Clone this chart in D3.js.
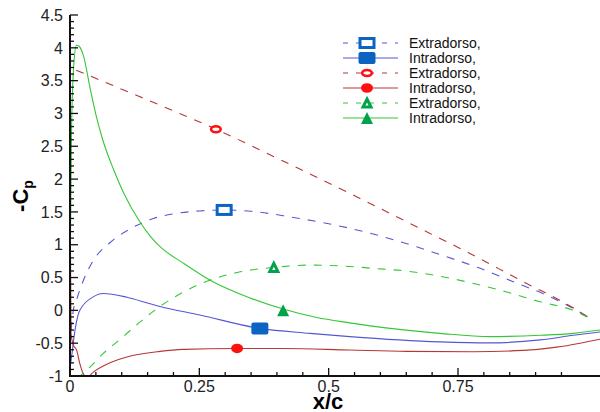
<!DOCTYPE html>
<html>
<head>
<meta charset="utf-8">
<script src="https://cdn.jsdelivr.net/npm/d3@7"></script>
<style>
  body { margin: 0; background: #fff; }
  svg { display: block; font-family: "Liberation Sans", Arial, sans-serif; }
</style>
</head>
<body>
<svg id="chart" width="600" height="412"></svg>
<script>
// values
const blueExtraX = [0.002, 0.0064, 0.013, 0.026, 0.045, 0.077, 0.116, 0.161, 0.2, 0.25, 0.3, 0.35, 0.425, 0.541, 0.606, 0.67, 0.728, 0.793, 0.857, 0.921, 0.973, 1.011]
const blueExtraY = [-0.3, 0.0, 0.17, 0.46, 0.76, 1.03, 1.24, 1.4, 1.47, 1.515, 1.53, 1.51, 1.425, 1.25, 1.12, 0.968, 0.816, 0.64, 0.435, 0.232, 0.03, -0.15]

const blueIntraX = [0.0005, 0.003, 0.0097, 0.019, 0.045, 0.064, 0.11, 0.155, 0.174, 0.251, 0.367, 0.464, 0.541, 0.715, 0.812, 0.909, 0.973, 1.0245]
const blueIntraY = [-0.85, -0.71, -0.3, 0.0, 0.206, 0.257, 0.2, 0.1, 0.06, -0.07, -0.275, -0.35, -0.4, -0.48, -0.495, -0.45, -0.38, -0.33]

const redExtraX = [0.012, 0.1, 0.2, 0.282, 0.4, 0.567, 0.657, 0.773, 0.889, 0.947, 1.011]
const redExtraY = [3.66, 3.37, 3.04, 2.76, 2.32, 1.68, 1.325, 0.867, 0.384, 0.155, -0.15]

const redIntraX = [0.0008, 0.002, 0.006, 0.013, 0.019, 0.026, 0.033, 0.045, 0.077, 0.11, 0.174, 0.219, 0.323, 0.412, 0.541, 0.651, 0.78, 0.876, 0.941, 0.986, 1.0245]
const redIntraY = [1.05, -0.35, -0.52, -0.61, -0.81, -0.97, -1.02, -0.94, -0.8, -0.71, -0.625, -0.595, -0.58, -0.58, -0.605, -0.625, -0.63, -0.61, -0.56, -0.5, -0.44]

const greenExtraX = [0.015, 0.02, 0.039, 0.064, 0.097, 0.135, 0.174, 0.251, 0.329, 0.394, 0.464, 0.528, 0.586, 0.651, 0.715, 0.78, 0.844, 0.909, 0.973, 1.011]
const greenExtraY = [-1.05, -1.0, -0.86, -0.66, -0.44, -0.18, 0.06, 0.4, 0.587, 0.654, 0.69, 0.675, 0.64, 0.598, 0.52, 0.41, 0.28, 0.13, 0.0, -0.15]

const greenIntraX = [0.0, 0.001, 0.003, 0.007, 0.0125, 0.018, 0.026, 0.039, 0.052, 0.064, 0.084, 0.103, 0.135, 0.155, 0.174, 0.219, 0.271, 0.348, 0.412, 0.477, 0.541, 0.619, 0.715, 0.812, 0.909, 0.973, 1.0245]
const greenIntraY = [-0.5, 1.2, 2.75, 3.7, 4.04, 4.02, 3.88, 3.38, 2.92, 2.58, 2.15, 1.8, 1.35, 1.13, 0.97, 0.72, 0.46, 0.19, 0.02, -0.11, -0.19, -0.275, -0.35, -0.4, -0.38, -0.35, -0.3]

// one marker per curve
const markerX = [0.298, 0.367, 0.282, 0.323, 0.394, 0.412]
const markerY = [1.53, -0.275, 2.76, -0.58, 0.654, 0.0]

const legendNames = ["Extradorso,", "Intradorso,", "Extradorso,", "Intradorso,", "Extradorso,", "Intradorso,"]
const xTickLabels = ["0", "0.25", "0.5", "0.75"]
const yTickLabels = ["-1", "-0.5", "0", "0.5", "1", "1.5", "2", "2.5", "3", "3.5", "4", "4.5"]

const svg = d3.select("#chart")

const x = d3.scaleLinear().domain([0, 1.0245]).range([70, 600])
const y = d3.scaleLinear().domain([-1, 4.5]).range([376, 15])

const blue = "#5656d6", red = "#b83636", green = "#36c636"
const mBlue = "#0b64c2", mRed = "#ff1010", mGreen = "#00a24c"

const series = [
    {xs: blueExtraX, ys: blueExtraY, color: blue, dash: true, mcol: mBlue, shape: "square", open: true},
    {xs: blueIntraX, ys: blueIntraY, color: blue, dash: false, mcol: mBlue, shape: "square", open: false},
    {xs: redExtraX, ys: redExtraY, color: red, dash: true, mcol: mRed, shape: "circle", open: true},
    {xs: redIntraX, ys: redIntraY, color: red, dash: false, mcol: mRed, shape: "circle", open: false},
    {xs: greenExtraX, ys: greenExtraY, color: green, dash: true, mcol: mGreen, shape: "tri", open: true},
    {xs: greenIntraX, ys: greenIntraY, color: green, dash: false, mcol: mGreen, shape: "tri", open: false}
]

svg.append("clipPath").attr("id", "plot")
    .append("rect").attr("x", 70).attr("y", 0).attr("width", 530).attr("height", 376)

const line = d3.line()
    .x(d => x(d[0]))
    .y(d => y(d[1]))
    .curve(d3.curveMonotoneX)

svg.append("g").attr("clip-path", "url(#plot)")
    .selectAll("path")
    .data(series)
    .enter()
    .append("path")
    .attr("d", s => line(d3.zip(s.xs, s.ys)))
    .attr("fill", "none")
    .attr("stroke", s => s.color)
    .attr("stroke-width", 1.1)
    .attr("stroke-dasharray", s => s.dash ? "8,8" : null)

// draws one marker at cx, cy
function marker(g, s, cx, cy) {
    if (s.shape == "square") {
        if (s.open) {
            g.append("rect").attr("x", cx - 7).attr("y", cy - 4.5).attr("width", 14).attr("height", 9)
                .attr("fill", "#fff").attr("stroke", s.mcol).attr("stroke-width", 3)
        } else {
            g.append("rect").attr("x", cx - 8.5).attr("y", cy - 6).attr("width", 17).attr("height", 12)
                .attr("rx", 2).attr("fill", s.mcol)
        }
    } else if (s.shape == "circle") {
        if (s.open) {
            g.append("ellipse").attr("cx", cx).attr("cy", cy).attr("rx", 4.8).attr("ry", 3)
                .attr("fill", "#fff").attr("stroke", s.mcol).attr("stroke-width", 2.6)
        } else {
            g.append("ellipse").attr("cx", cx).attr("cy", cy).attr("rx", 6).attr("ry", 4.8)
                .attr("fill", s.mcol)
        }
    } else {
        const h = 12, w = 12
        const pts = [[cx, cy - h / 2], [cx + w / 2, cy + h / 2], [cx - w / 2, cy + h / 2]]
        if (s.open) {
            g.append("polygon").attr("points", "" + [[cx, cy - 4], [cx + 4, cy + 4], [cx - 4, cy + 4]].join(" "))
                .attr("fill", "#fff").attr("stroke", s.mcol).attr("stroke-width", 3).attr("stroke-linejoin", "miter")
        } else {
            g.append("polygon").attr("points", pts.join(" ")).attr("fill", s.mcol)
        }
    }
}

const mg = svg.append("g")
series.forEach((s, i) => marker(mg, s, x(markerX[i]), y(markerY[i])))

// axes (ticks point inward)
const yAxis = svg.append("g").attr("transform", "translate(70,0)")
yAxis.selectAll(".minor")
    .data(d3.range(-10, 46).map(d => d / 10))
    .enter()
    .append("line")
    .attr("x1", 0).attr("x2", d => Math.round(d * 10) % 5 == 0 ? 8 : 4)
    .attr("y1", d => y(d)).attr("y2", d => y(d))
    .attr("stroke", "#111").attr("stroke-width", 1.3)
yAxis.selectAll("text")
    .data(yTickLabels)
    .enter()
    .append("text")
    .attr("x", -7)
    .attr("y", d => y(+d))
    .attr("dy", "0.36em")
    .attr("text-anchor", "end")
    .attr("font-size", 16)
    .attr("fill", "#222")
    .text(d => d)
yAxis.append("line").attr("x1", 0).attr("x2", 0).attr("y1", y(4.5)).attr("y2", y(-1) + 1)
    .attr("stroke", "#111").attr("stroke-width", 2)

const xAxis = svg.append("g")
xAxis.selectAll("line")
    .data(d3.range(0, 20).map(d => d / 20))
    .enter()
    .append("line")
    .attr("x1", d => x(d)).attr("x2", d => x(d))
    .attr("y1", 376).attr("y2", (d, i) => i % 5 == 0 ? 368 : 372)
    .attr("stroke", "#111").attr("stroke-width", 1.3)
xAxis.selectAll("text")
    .data(xTickLabels)
    .enter()
    .append("text")
    .attr("x", d => x(+d))
    .attr("y", 392)
    .attr("text-anchor", "middle")
    .attr("font-size", 16)
    .attr("fill", "#222")
    .text(d => d)
xAxis.append("line").attr("x1", 69).attr("x2", 600).attr("y1", 376).attr("y2", 376)
    .attr("stroke", "#111").attr("stroke-width", 2)

// titles
svg.append("text")
    .attr("x", 328).attr("y", 409)
    .attr("text-anchor", "middle")
    .attr("font-size", 22).attr("font-weight", "bold")
    .text("x/c")

const yt = svg.append("text")
    .attr("transform", "translate(28,196) rotate(-90)")
    .attr("text-anchor", "middle")
    .attr("font-size", 22).attr("font-weight", "bold")
yt.append("tspan").text("-C")
yt.append("tspan").attr("dy", 5).attr("font-size", 14).text("p")

// legend
const leg = svg.append("g")
series.forEach((s, i) => {
    const ly = 43 + i * 15
    leg.append("line")
        .attr("x1", 343).attr("x2", 398).attr("y1", ly).attr("y2", ly)
        .attr("stroke", s.color).attr("stroke-width", 1.1)
        .attr("stroke-dasharray", s.dash ? "5,8" : null)
    marker(leg, s, 367, ly)
    leg.append("text")
        .attr("x", 409).attr("y", ly)
        .attr("dy", "0.36em")
        .attr("font-size", 14)
        .attr("fill", "#111")
        .text(legendNames[i])
})
</script>
</body>
</html>
